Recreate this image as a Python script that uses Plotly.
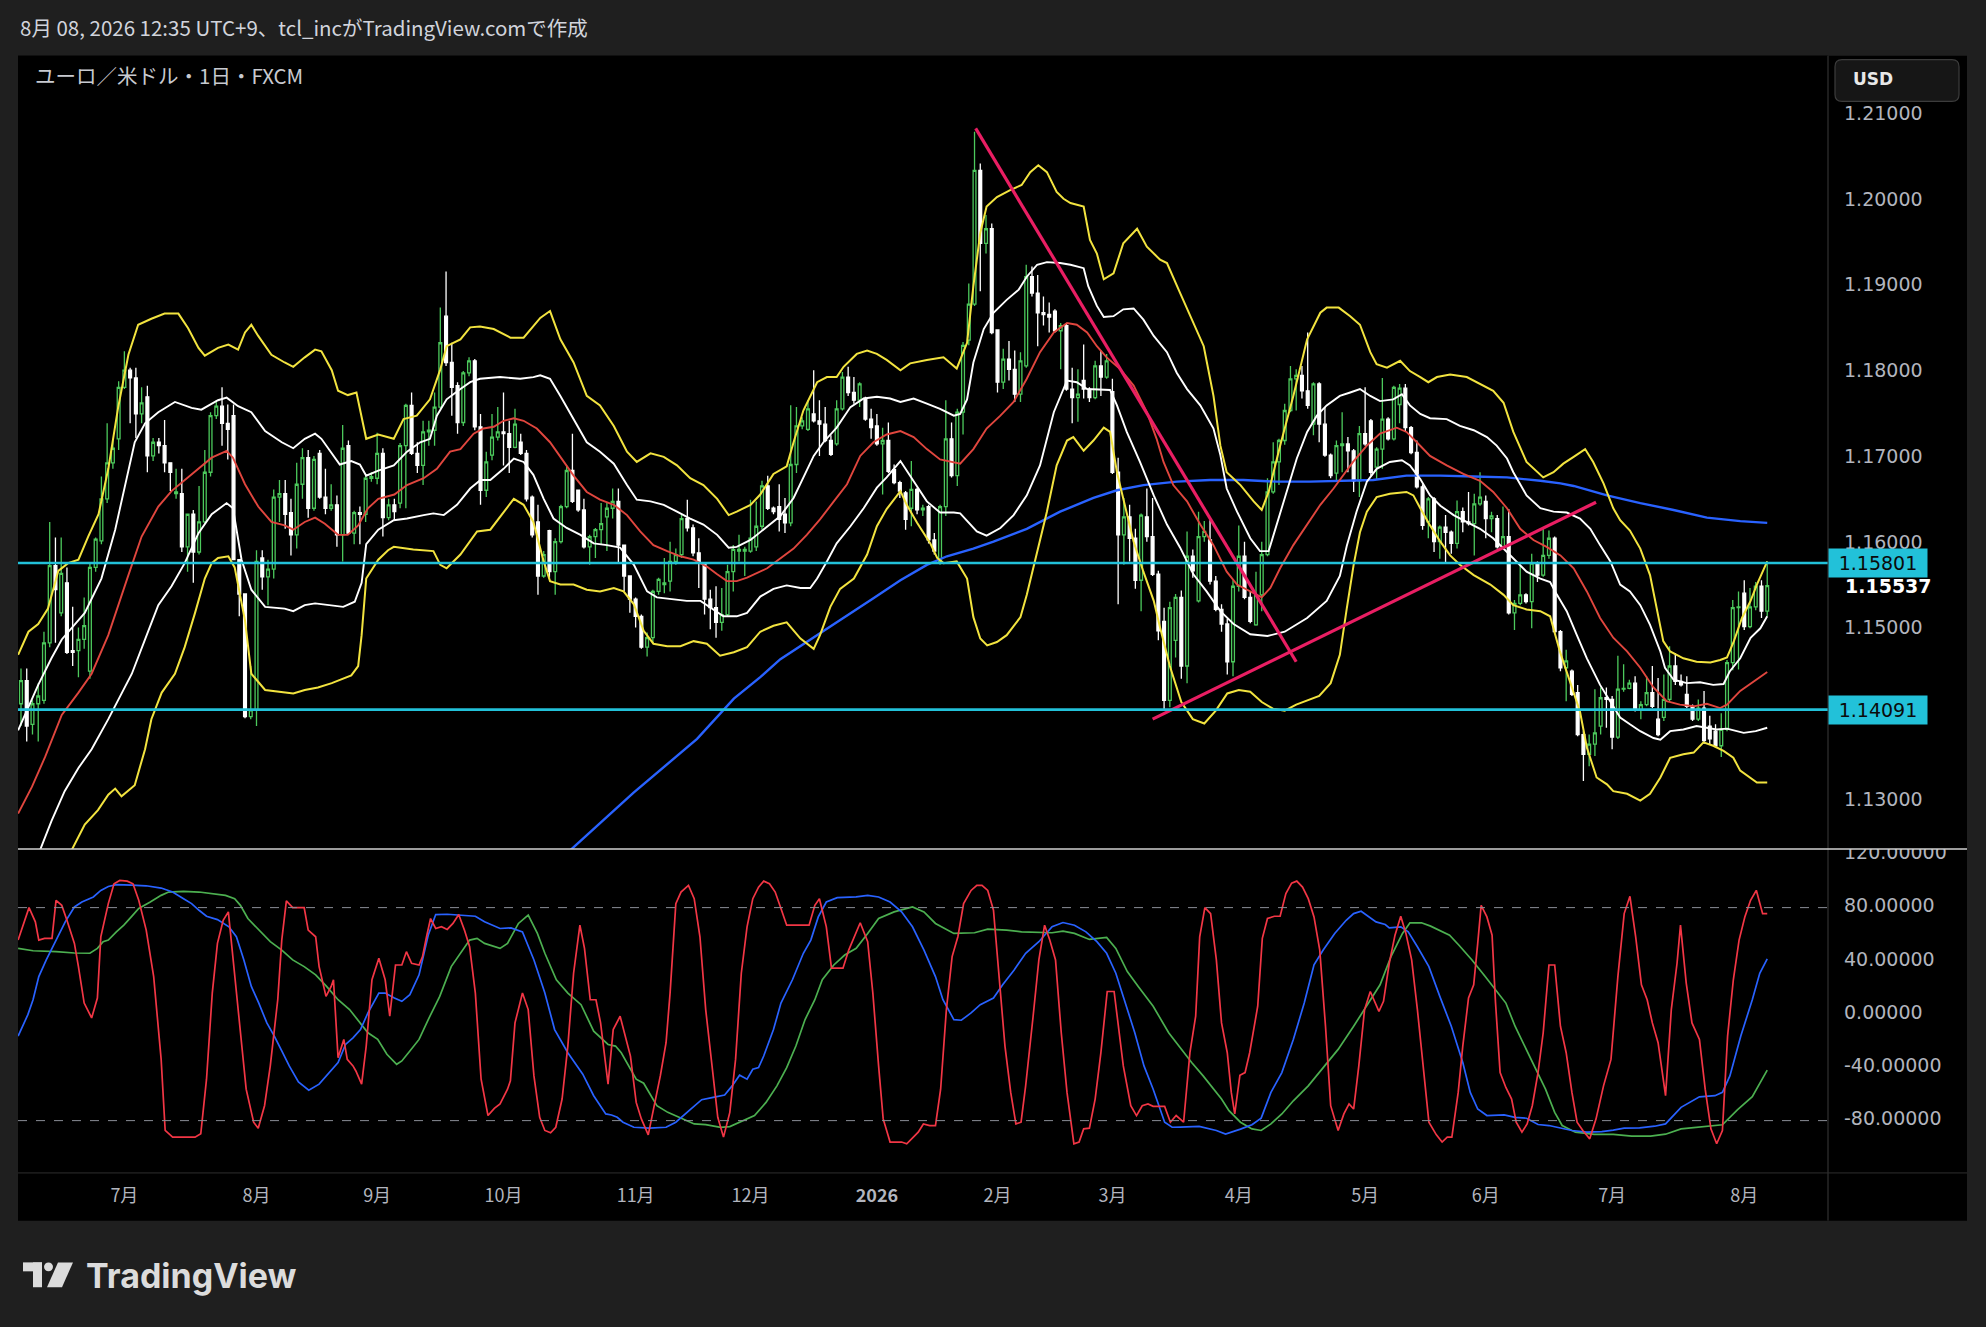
import plotly.graph_objects as go

W, H = 1986, 1327


def px(x):
    return x / W


def py(y):
    return 1 - y / H


# ---------------- data ----------------
first_bar = -18  # bar index 0 = first trading day of July 2025

open_ = [
    1.1416, 1.1443, 1.1392, 1.1416, 1.1420, 1.1487, 1.1577, 1.1522, 1.1557, 1.1478,
    1.1478, 1.1491, 1.1454, 1.1575, 1.1606, 1.1655, 1.1697, 1.1725, 1.1785, 1.1805,
    1.1796, 1.1754, 1.1774, 1.1705, 1.1721, 1.1717, 1.1697, 1.1661, 1.1661, 1.1599,
    1.1637, 1.1593, 1.1628, 1.1686, 1.1752, 1.1763, 1.1743, 1.1752, 1.1584, 1.1544,
    1.1401, 1.1409, 1.1586, 1.1564, 1.1573, 1.1657, 1.1661, 1.1639, 1.1613, 1.1672,
    1.1703, 1.1644, 1.1708, 1.1657, 1.1644, 1.1648, 1.1613, 1.1717, 1.1615, 1.1639,
    1.1637, 1.1679, 1.1679, 1.1708, 1.1633, 1.1648, 1.1650, 1.1717, 1.1764, 1.1708,
    1.1694, 1.1733, 1.1735, 1.1762, 1.1868, 1.1814, 1.1787, 1.1744, 1.1802, 1.1816,
    1.1739, 1.1665, 1.1706, 1.1727, 1.1733, 1.1731, 1.1715, 1.1721, 1.1708, 1.1657,
    1.1628, 1.1565, 1.1618, 1.1570, 1.1605, 1.1646, 1.1688, 1.1665, 1.1642, 1.1599,
    1.1611, 1.1619, 1.1634, 1.1644, 1.1652, 1.1601, 1.1565, 1.1538, 1.1518, 1.1482,
    1.1493, 1.1547, 1.1555, 1.1559, 1.1582, 1.1590, 1.1632, 1.1621, 1.1592, 1.1580,
    1.1538, 1.1528, 1.1511, 1.1520, 1.1570, 1.1594, 1.1594, 1.1594, 1.1599, 1.1623,
    1.1670, 1.1644, 1.1646, 1.1637, 1.1627, 1.1695, 1.1740, 1.1736, 1.1754, 1.1746,
    1.1742, 1.1723, 1.1719, 1.1760, 1.1797, 1.1779, 1.1770, 1.1772, 1.1748, 1.1740,
    1.1719, 1.1723, 1.1689, 1.1674, 1.1662, 1.1644, 1.1666, 1.1642, 1.1646, 1.1607,
    1.1582, 1.1646, 1.1725, 1.1682, 1.1756, 1.1840, 1.1882, 1.2038, 1.1953, 1.1970,
    1.1852, 1.1791, 1.1818, 1.1806, 1.1777, 1.1810, 1.1914, 1.1895, 1.1872, 1.1870,
    1.1874, 1.1851, 1.1857, 1.1783, 1.1773, 1.1793, 1.1783, 1.1773, 1.1810, 1.1797,
    1.1780, 1.1686, 1.1613, 1.1634, 1.1609, 1.1560, 1.1634, 1.1611, 1.1567, 1.1512,
    1.1420, 1.1490, 1.1540, 1.1460, 1.1588, 1.1536, 1.1611, 1.1607, 1.1559, 1.1526,
    1.1509, 1.1465, 1.1553, 1.1588, 1.1540, 1.1508, 1.1543, 1.1590, 1.1663, 1.1698,
    1.1723, 1.1758, 1.1795, 1.1799, 1.1781, 1.1742, 1.1789, 1.1742, 1.1706, 1.1685,
    1.1717, 1.1719, 1.1711, 1.1676, 1.1731, 1.1746, 1.1692, 1.1713, 1.1748, 1.1725,
    1.1765, 1.1784, 1.1738, 1.1709, 1.1669, 1.1628, 1.1655, 1.1605, 1.1622, 1.1616,
    1.1603, 1.1640, 1.1628, 1.1626, 1.1649, 1.1652, 1.1632, 1.1632, 1.1599, 1.1611,
    1.1522, 1.1533, 1.1543, 1.1535, 1.1580, 1.1566, 1.1589, 1.1609, 1.1500, 1.1458,
    1.1454, 1.1429, 1.1380, 1.1357, 1.1369, 1.1390, 1.1423, 1.1421, 1.1377, 1.1433,
    1.1434, 1.1440, 1.1409, 1.1415, 1.1429, 1.1398, 1.1400, 1.1421, 1.1460, 1.1442,
    1.1427, 1.1413, 1.1398, 1.1411, 1.1390, 1.1384, 1.1367, 1.1386, 1.1464, 1.1528,
    1.1545, 1.1506, 1.1529, 1.1553, 1.1524,
]

high_ = [
    1.1457, 1.1457, 1.1420, 1.1440, 1.1500, 1.1628, 1.1610, 1.1610, 1.1575, 1.1529,
    1.1505, 1.1540, 1.1580, 1.1610, 1.1681, 1.1743, 1.1725, 1.1792, 1.1827, 1.1808,
    1.1808, 1.1785, 1.1787, 1.1726, 1.1726, 1.1747, 1.1697, 1.1690, 1.1690, 1.1637,
    1.1642, 1.1670, 1.1712, 1.1756, 1.1770, 1.1785, 1.1765, 1.1765, 1.1584, 1.1544,
    1.1460, 1.1595, 1.1595, 1.1584, 1.1666, 1.1677, 1.1677, 1.1655, 1.1697, 1.1714,
    1.1712, 1.1705, 1.1712, 1.1690, 1.1672, 1.1659, 1.1741, 1.1723, 1.1641, 1.1646,
    1.1683, 1.1686, 1.1732, 1.1714, 1.1655, 1.1655, 1.1720, 1.1766, 1.1779, 1.1721,
    1.1746, 1.1746, 1.1779, 1.1878, 1.1920, 1.1837, 1.1791, 1.1804, 1.1820, 1.1818,
    1.1754, 1.1710, 1.1754, 1.1762, 1.1779, 1.1746, 1.1760, 1.1731, 1.1712, 1.1659,
    1.1648, 1.1594, 1.1619, 1.1609, 1.1648, 1.1694, 1.1731, 1.1665, 1.1655, 1.1613,
    1.1621, 1.1650, 1.1650, 1.1667, 1.1667, 1.1601, 1.1565, 1.1540, 1.1520, 1.1499,
    1.1549, 1.1563, 1.1586, 1.1605, 1.1597, 1.1636, 1.1654, 1.1625, 1.1609, 1.1580,
    1.1549, 1.1553, 1.1551, 1.1578, 1.1601, 1.1613, 1.1599, 1.1654, 1.1652, 1.1676,
    1.1682, 1.1646, 1.1672, 1.1656, 1.1764, 1.1762, 1.1750, 1.1770, 1.1805, 1.1770,
    1.1762, 1.1729, 1.1770, 1.1803, 1.1809, 1.1797, 1.1791, 1.1774, 1.1760, 1.1754,
    1.1738, 1.1744, 1.1695, 1.1676, 1.1664, 1.1699, 1.1668, 1.1648, 1.1648, 1.1615,
    1.1648, 1.1770, 1.1744, 1.1760, 1.1838, 1.1906, 1.2083, 1.2046, 1.1986, 1.1976,
    1.1852, 1.1830, 1.1839, 1.1828, 1.1826, 1.1928, 1.1926, 1.1916, 1.1891, 1.1884,
    1.1876, 1.1860, 1.1859, 1.1808, 1.1806, 1.1835, 1.1785, 1.1816, 1.1828, 1.1824,
    1.1795, 1.1703, 1.1656, 1.1648, 1.1620, 1.1638, 1.1667, 1.1656, 1.1571, 1.1528,
    1.1535, 1.1544, 1.1548, 1.1617, 1.1596, 1.1640, 1.1629, 1.1630, 1.1565, 1.1532,
    1.1515, 1.1560, 1.1624, 1.1605, 1.1547, 1.1570, 1.1605, 1.1679, 1.1721, 1.1725,
    1.1766, 1.1810, 1.1806, 1.1810, 1.1849, 1.1791, 1.1791, 1.1762, 1.1708, 1.1723,
    1.1756, 1.1727, 1.1713, 1.1740, 1.1785, 1.1748, 1.1715, 1.1796, 1.1750, 1.1787,
    1.1789, 1.1789, 1.1740, 1.1723, 1.1672, 1.1657, 1.1657, 1.1624, 1.1636, 1.1618,
    1.1653, 1.1645, 1.1663, 1.1661, 1.1686, 1.1659, 1.1640, 1.1636, 1.1646, 1.1643,
    1.1537, 1.1578, 1.1545, 1.1591, 1.1582, 1.1622, 1.1618, 1.1611, 1.1502, 1.1479,
    1.1456, 1.1438, 1.1384, 1.1380, 1.1433, 1.1435, 1.1435, 1.1425, 1.1472, 1.1462,
    1.1444, 1.1448, 1.1419, 1.1448, 1.1460, 1.1446, 1.1450, 1.1483, 1.1475, 1.1450,
    1.1448, 1.1415, 1.1421, 1.1431, 1.1402, 1.1392, 1.1405, 1.1467, 1.1537, 1.1547,
    1.1560, 1.1551, 1.1558, 1.1560, 1.1582,
]

low_ = [
    1.1390, 1.1372, 1.1380, 1.1372, 1.1416, 1.1482, 1.1487, 1.1518, 1.1474, 1.1460,
    1.1447, 1.1480, 1.1445, 1.1570, 1.1602, 1.1650, 1.1690, 1.1712, 1.1783, 1.1743,
    1.1726, 1.1743, 1.1686, 1.1699, 1.1708, 1.1686, 1.1664, 1.1655, 1.1593, 1.1570,
    1.1557, 1.1590, 1.1626, 1.1681, 1.1748, 1.1717, 1.1701, 1.1584, 1.1518, 1.1399,
    1.1398, 1.1390, 1.1549, 1.1531, 1.1562, 1.1628, 1.1620, 1.1589, 1.1597, 1.1655,
    1.1633, 1.1641, 1.1655, 1.1637, 1.1641, 1.1599, 1.1582, 1.1613, 1.1602, 1.1602,
    1.1628, 1.1675, 1.1672, 1.1611, 1.1630, 1.1630, 1.1644, 1.1644, 1.1706, 1.1685,
    1.1671, 1.1717, 1.1717, 1.1760, 1.1810, 1.1752, 1.1731, 1.1740, 1.1798, 1.1735,
    1.1648, 1.1657, 1.1700, 1.1723, 1.1694, 1.1685, 1.1714, 1.1706, 1.1652, 1.1610,
    1.1543, 1.1563, 1.1563, 1.1543, 1.1603, 1.1644, 1.1650, 1.1640, 1.1597, 1.1578,
    1.1586, 1.1601, 1.1594, 1.1632, 1.1580, 1.1547, 1.1522, 1.1505, 1.1480, 1.1471,
    1.1486, 1.1543, 1.1545, 1.1547, 1.1578, 1.1586, 1.1617, 1.1588, 1.1551, 1.1520,
    1.1503, 1.1493, 1.1501, 1.1518, 1.1547, 1.1582, 1.1565, 1.1592, 1.1594, 1.1619,
    1.1642, 1.1637, 1.1617, 1.1615, 1.1623, 1.1685, 1.1736, 1.1734, 1.1744, 1.1705,
    1.1721, 1.1705, 1.1717, 1.1758, 1.1775, 1.1766, 1.1762, 1.1746, 1.1725, 1.1717,
    1.1660, 1.1685, 1.1672, 1.1656, 1.1619, 1.1623, 1.1637, 1.1635, 1.1603, 1.1590,
    1.1578, 1.1635, 1.1680, 1.1670, 1.1730, 1.1834, 1.1880, 1.1897, 1.1941, 1.1847,
    1.1779, 1.1783, 1.1793, 1.1768, 1.1768, 1.1808, 1.1891, 1.1833, 1.1857, 1.1849,
    1.1849, 1.1806, 1.1781, 1.1743, 1.1745, 1.1772, 1.1768, 1.1771, 1.1775, 1.1795,
    1.1684, 1.1532, 1.1578, 1.1582, 1.1550, 1.1524, 1.1605, 1.1565, 1.1490, 1.1408,
    1.1412, 1.1470, 1.1445, 1.1440, 1.1563, 1.1534, 1.1605, 1.1555, 1.1524, 1.1500,
    1.1450, 1.1448, 1.1547, 1.1538, 1.1510, 1.1507, 1.1524, 1.1588, 1.1661, 1.1671,
    1.1718, 1.1756, 1.1758, 1.1772, 1.1760, 1.1729, 1.1721, 1.1704, 1.1679, 1.1675,
    1.1686, 1.1686, 1.1663, 1.1657, 1.1717, 1.1682, 1.1678, 1.1690, 1.1723, 1.1723,
    1.1743, 1.1734, 1.1707, 1.1667, 1.1619, 1.1609, 1.1593, 1.1585, 1.1580, 1.1591,
    1.1597, 1.1616, 1.1624, 1.1589, 1.1647, 1.1609, 1.1616, 1.1597, 1.1597, 1.1520,
    1.1502, 1.1531, 1.1533, 1.1504, 1.1558, 1.1564, 1.1585, 1.1498, 1.1454, 1.1419,
    1.1425, 1.1378, 1.1326, 1.1343, 1.1355, 1.1380, 1.1388, 1.1363, 1.1375, 1.1430,
    1.1433, 1.1407, 1.1398, 1.1413, 1.1411, 1.1378, 1.1396, 1.1419, 1.1438, 1.1436,
    1.1411, 1.1396, 1.1396, 1.1369, 1.1369, 1.1365, 1.1354, 1.1384, 1.1455, 1.1456,
    1.1502, 1.1504, 1.1525, 1.1516, 1.1518,
]

close_ = [
    1.1443, 1.1390, 1.1416, 1.1425, 1.1487, 1.1577, 1.1549, 1.1568, 1.1476, 1.1476,
    1.1491, 1.1507, 1.1575, 1.1608, 1.1655, 1.1697, 1.1714, 1.1785, 1.1805, 1.1796,
    1.1754, 1.1767, 1.1705, 1.1721, 1.1717, 1.1697, 1.1686, 1.1663, 1.1599, 1.1637,
    1.1593, 1.1628, 1.1686, 1.1752, 1.1763, 1.1743, 1.1736, 1.1584, 1.1544, 1.1401,
    1.1409, 1.1582, 1.1564, 1.1573, 1.1657, 1.1661, 1.1637, 1.1613, 1.1672, 1.1703,
    1.1644, 1.1701, 1.1657, 1.1644, 1.1648, 1.1613, 1.1714, 1.1615, 1.1639, 1.1637,
    1.1679, 1.1681, 1.1708, 1.1633, 1.1648, 1.1640, 1.1717, 1.1764, 1.1708, 1.1694,
    1.1733, 1.1735, 1.1762, 1.1837, 1.1814, 1.1785, 1.1744, 1.1802, 1.1816, 1.1739,
    1.1665, 1.1698, 1.1727, 1.1733, 1.1731, 1.1715, 1.1742, 1.1708, 1.1655, 1.1613,
    1.1565, 1.1590, 1.1570, 1.1605, 1.1646, 1.1688, 1.1652, 1.1642, 1.1599, 1.1611,
    1.1619, 1.1626, 1.1644, 1.1652, 1.1601, 1.1565, 1.1538, 1.1518, 1.1482, 1.1493,
    1.1547, 1.1561, 1.1557, 1.1582, 1.1590, 1.1632, 1.1621, 1.1592, 1.1580, 1.1538,
    1.1528, 1.1511, 1.1520, 1.1570, 1.1596, 1.1596, 1.1596, 1.1609, 1.1623, 1.1670,
    1.1644, 1.1640, 1.1631, 1.1627, 1.1695, 1.1740, 1.1746, 1.1760, 1.1746, 1.1742,
    1.1723, 1.1707, 1.1760, 1.1797, 1.1779, 1.1770, 1.1789, 1.1748, 1.1738, 1.1719,
    1.1723, 1.1687, 1.1674, 1.1664, 1.1631, 1.1666, 1.1642, 1.1644, 1.1607, 1.1594,
    1.1646, 1.1725, 1.1682, 1.1756, 1.1834, 1.1882, 1.2038, 1.1953, 1.1970, 1.1849,
    1.1791, 1.1818, 1.1806, 1.1777, 1.1816, 1.1914, 1.1895, 1.1872, 1.1870, 1.1867,
    1.1851, 1.1857, 1.1783, 1.1773, 1.1777, 1.1783, 1.1773, 1.1810, 1.1797, 1.1816,
    1.1686, 1.1613, 1.1634, 1.1609, 1.1560, 1.1636, 1.1611, 1.1567, 1.1501, 1.1420,
    1.1528, 1.1540, 1.1460, 1.1588, 1.1571, 1.1611, 1.1617, 1.1559, 1.1526, 1.1509,
    1.1465, 1.1553, 1.1588, 1.1540, 1.1512, 1.1543, 1.1590, 1.1663, 1.1698, 1.1723,
    1.1758, 1.1795, 1.1799, 1.1781, 1.1764, 1.1789, 1.1742, 1.1706, 1.1682, 1.1717,
    1.1719, 1.1711, 1.1676, 1.1731, 1.1719, 1.1686, 1.1713, 1.1748, 1.1725, 1.1785,
    1.1784, 1.1738, 1.1709, 1.1669, 1.1624, 1.1655, 1.1605, 1.1622, 1.1616, 1.1603,
    1.1640, 1.1628, 1.1626, 1.1649, 1.1657, 1.1632, 1.1635, 1.1599, 1.1611, 1.1522,
    1.1533, 1.1543, 1.1535, 1.1580, 1.1566, 1.1589, 1.1609, 1.1500, 1.1458, 1.1466,
    1.1427, 1.1380, 1.1357, 1.1369, 1.1382, 1.1423, 1.1421, 1.1377, 1.1433, 1.1434,
    1.1440, 1.1409, 1.1415, 1.1429, 1.1413, 1.1380, 1.1421, 1.1460, 1.1442, 1.1438,
    1.1413, 1.1398, 1.1411, 1.1373, 1.1375, 1.1367, 1.1386, 1.1464, 1.1528, 1.1529,
    1.1506, 1.1529, 1.1553, 1.1524, 1.15537,
]

assert len(open_) == len(high_) == len(low_) == len(close_)
bars = list(range(first_bar, first_bar + len(close_)))

# Bollinger-type bands (bar index, price)
upper2 = [(-18.5, 1.1473), (-16.7, 1.1500), (-15.0, 1.1509), (-13.3, 1.1527), (-11.5, 1.1571), (-9.8, 1.1580), (-8.0, 1.1584), (-6.3, 1.1611), (-4.5, 1.1637), (-2.8, 1.1690), (-1.1, 1.1761), (0.7, 1.1823), (2.4, 1.1858), (4.7, 1.1865), (7.0, 1.1871), (9.4, 1.1871), (11.1, 1.1854), (12.9, 1.1831), (14.0, 1.1822), (16.3, 1.1831), (18.1, 1.1835), (19.8, 1.1829), (21.0, 1.1849), (22.1, 1.1858), (23.3, 1.1845), (25.6, 1.1823), (27.9, 1.1814), (29.4, 1.1809), (31.4, 1.1820), (33.2, 1.1829), (34.3, 1.1827), (36.1, 1.1805), (37.2, 1.1781), (38.9, 1.1776), (40.4, 1.1779), (41.3, 1.1752), (42.1, 1.1725), (44.2, 1.1730), (46.9, 1.1725), (48.6, 1.1748), (50.9, 1.1752), (53.2, 1.1771), (55.0, 1.1806), (56.1, 1.1833), (58.5, 1.1841), (60.2, 1.1855), (61.9, 1.1856), (64.3, 1.1853), (67.2, 1.1843), (69.5, 1.1843), (71.2, 1.1856), (72.4, 1.1866), (74.1, 1.1874), (75.9, 1.1841), (78.2, 1.1814), (80.5, 1.1775), (82.8, 1.1764), (85.2, 1.1740), (87.5, 1.1710), (89.2, 1.1698), (91.6, 1.1708), (93.9, 1.1704), (96.2, 1.1694), (98.5, 1.1679), (100.8, 1.1671), (103.2, 1.1655), (105.2, 1.1636), (106.6, 1.1640), (109.0, 1.1648), (110.7, 1.1660), (113.0, 1.1684), (115.3, 1.1693), (116.5, 1.1721), (118.2, 1.1758), (120.6, 1.1791), (122.3, 1.1797), (124.0, 1.1797), (125.2, 1.1809), (127.5, 1.1824), (129.3, 1.1828), (131.0, 1.1824), (132.7, 1.1817), (135.1, 1.1805), (136.8, 1.1813), (139.7, 1.1817), (142.6, 1.1820), (144.9, 1.1807), (146.1, 1.1826), (146.7, 1.1837), (147.8, 1.1903), (149.0, 1.1965), (150.1, 1.1996), (151.9, 1.2007), (154.2, 1.2015), (156.2, 1.2021), (157.7, 1.2036), (159.1, 1.2044), (160.6, 1.2036), (162.3, 1.2013), (163.5, 1.2005), (164.7, 1.2000), (167.0, 1.1996), (168.1, 1.1957), (169.3, 1.1941), (170.5, 1.1911), (172.2, 1.1918), (173.9, 1.1953), (176.3, 1.1970), (178.0, 1.1949), (180.3, 1.1934), (181.5, 1.1930), (183.8, 1.1895), (186.1, 1.1860), (187.9, 1.1833), (189.6, 1.1775), (190.8, 1.1717), (191.9, 1.1686), (194.3, 1.1671), (196.6, 1.1652), (198.0, 1.1642), (199.2, 1.1663), (201.2, 1.1717), (203.5, 1.1775), (205.9, 1.1841), (208.2, 1.1872), (209.3, 1.1878), (211.4, 1.1878), (213.4, 1.1868), (215.1, 1.1858), (216.9, 1.1826), (218.0, 1.1812), (219.8, 1.1808), (222.1, 1.1816), (223.8, 1.1804), (225.6, 1.1797), (227.0, 1.1791), (228.5, 1.1797), (230.8, 1.1800), (233.7, 1.1797), (236.0, 1.1789), (238.3, 1.1781), (240.1, 1.1767), (241.8, 1.1733), (244.1, 1.1698), (247.0, 1.1680), (248.8, 1.1686), (250.5, 1.1696), (252.3, 1.1704), (254.3, 1.1713), (255.7, 1.1698), (257.5, 1.1673), (259.2, 1.1644), (260.4, 1.1630), (262.1, 1.1618), (263.9, 1.1597), (265.6, 1.1566), (266.8, 1.1527), (267.9, 1.1489), (269.1, 1.1477), (271.4, 1.1469), (273.7, 1.1465), (276.1, 1.1464), (277.8, 1.1467), (279.0, 1.1470), (280.2, 1.1489), (281.6, 1.1516), (283.1, 1.1536), (284.2, 1.1555), (286.0, 1.1582)]

upper1 = [(-18.5, 1.1385), (-15.0, 1.1438), (-12.7, 1.1469), (-10.9, 1.1491), (-6.9, 1.1522), (-4.0, 1.1562), (-1.6, 1.1619), (0.1, 1.1672), (1.8, 1.1721), (3.6, 1.1743), (5.9, 1.1756), (8.8, 1.1768), (11.7, 1.1761), (13.4, 1.1759), (16.3, 1.1770), (17.8, 1.1773), (19.8, 1.1763), (22.1, 1.1756), (24.5, 1.1734), (27.4, 1.1721), (29.4, 1.1714), (31.4, 1.1725), (33.2, 1.1731), (34.3, 1.1725), (36.1, 1.1708), (37.5, 1.1695), (39.5, 1.1699), (41.0, 1.1695), (42.1, 1.1682), (44.2, 1.1688), (46.9, 1.1694), (49.2, 1.1710), (51.5, 1.1721), (53.2, 1.1725), (54.4, 1.1752), (56.1, 1.1771), (58.5, 1.1783), (60.2, 1.1791), (61.9, 1.1795), (65.4, 1.1797), (68.9, 1.1795), (71.2, 1.1797), (72.4, 1.1799), (74.1, 1.1795), (75.9, 1.1775), (78.2, 1.1748), (80.5, 1.1721), (82.8, 1.1710), (85.2, 1.1696), (87.5, 1.1671), (89.2, 1.1654), (91.6, 1.1652), (93.9, 1.1648), (96.2, 1.1640), (98.5, 1.1632), (100.8, 1.1625), (103.2, 1.1613), (105.2, 1.1598), (106.6, 1.1599), (109.0, 1.1607), (111.9, 1.1623), (114.2, 1.1635), (116.5, 1.1656), (118.2, 1.1680), (120.0, 1.1705), (121.7, 1.1721), (124.0, 1.1738), (126.4, 1.1762), (128.7, 1.1772), (131.0, 1.1774), (133.3, 1.1772), (135.1, 1.1768), (137.4, 1.1772), (139.7, 1.1766), (142.0, 1.1760), (144.4, 1.1752), (145.5, 1.1754), (146.7, 1.1771), (147.8, 1.1814), (149.6, 1.1853), (151.3, 1.1872), (153.6, 1.1887), (155.7, 1.1899), (157.1, 1.1914), (158.9, 1.1928), (160.6, 1.1931), (162.9, 1.1930), (164.7, 1.1928), (167.0, 1.1924), (167.8, 1.1903), (169.3, 1.1880), (170.5, 1.1867), (172.2, 1.1868), (173.9, 1.1876), (175.7, 1.1877), (177.4, 1.1864), (179.2, 1.1845), (181.5, 1.1826), (183.2, 1.1802), (185.0, 1.1783), (187.3, 1.1764), (189.6, 1.1737), (190.8, 1.1706), (191.9, 1.1667), (193.7, 1.1640), (196.0, 1.1609), (197.7, 1.1594), (199.2, 1.1594), (200.6, 1.1625), (202.4, 1.1667), (204.1, 1.1702), (205.9, 1.1733), (207.6, 1.1752), (209.3, 1.1764), (211.6, 1.1775), (213.4, 1.1779), (215.1, 1.1783), (216.9, 1.1775), (218.6, 1.1769), (220.9, 1.1771), (222.4, 1.1777), (223.8, 1.1764), (225.6, 1.1754), (227.3, 1.1749), (230.2, 1.1748), (232.5, 1.1740), (234.9, 1.1735), (237.2, 1.1727), (238.9, 1.1717), (240.7, 1.1702), (241.8, 1.1686), (244.1, 1.1659), (246.5, 1.1644), (248.8, 1.1640), (251.1, 1.1639), (253.4, 1.1632), (255.2, 1.1620), (256.9, 1.1601), (258.7, 1.1582), (260.4, 1.1555), (262.1, 1.1547), (263.9, 1.1531), (265.6, 1.1508), (267.4, 1.1477), (268.2, 1.1458), (269.7, 1.1444), (272.0, 1.1440), (274.3, 1.1441), (276.6, 1.1438), (278.4, 1.1439), (279.5, 1.1454), (281.3, 1.1469), (283.1, 1.1493), (284.8, 1.1504), (286.0, 1.1518)]

middle = [(-18.5, 1.1288), (-16.1, 1.1319), (-13.8, 1.1354), (-10.9, 1.1403), (-8.0, 1.1429), (-5.7, 1.1451), (-2.8, 1.1496), (-1.1, 1.1531), (0.7, 1.1566), (3.0, 1.1611), (5.9, 1.1646), (8.2, 1.1664), (10.5, 1.1677), (12.9, 1.1690), (15.2, 1.1703), (17.8, 1.1711), (18.9, 1.1703), (21.0, 1.1672), (23.3, 1.1646), (25.6, 1.1628), (27.9, 1.1624), (29.4, 1.1619), (31.4, 1.1628), (33.2, 1.1633), (34.9, 1.1626), (37.2, 1.1613), (38.9, 1.1613), (40.7, 1.1624), (42.4, 1.1644), (44.2, 1.1655), (47.0, 1.1660), (49.2, 1.1671), (52.1, 1.1679), (54.4, 1.1690), (56.7, 1.1710), (58.5, 1.1713), (60.8, 1.1731), (62.5, 1.1737), (64.3, 1.1739), (66.0, 1.1746), (67.8, 1.1749), (69.5, 1.1746), (71.8, 1.1737), (74.1, 1.1721), (76.5, 1.1698), (78.2, 1.1682), (80.5, 1.1663), (82.8, 1.1654), (85.2, 1.1648), (87.5, 1.1636), (89.8, 1.1617), (92.1, 1.1601), (94.5, 1.1594), (96.8, 1.1588), (99.1, 1.1584), (101.4, 1.1576), (103.2, 1.1567), (104.9, 1.1559), (106.6, 1.1559), (108.4, 1.1563), (111.9, 1.1574), (114.2, 1.1586), (116.5, 1.1597), (118.8, 1.1613), (121.1, 1.1631), (123.5, 1.1652), (125.8, 1.1672), (128.1, 1.1705), (130.4, 1.1721), (132.7, 1.1730), (135.1, 1.1734), (137.4, 1.1727), (139.7, 1.1713), (142.0, 1.1701), (144.4, 1.1697), (145.5, 1.1696), (147.8, 1.1713), (150.1, 1.1737), (152.5, 1.1752), (154.8, 1.1768), (157.1, 1.1795), (159.4, 1.1826), (161.8, 1.1849), (164.1, 1.1860), (165.8, 1.1858), (167.6, 1.1849), (169.3, 1.1833), (171.0, 1.1820), (173.4, 1.1806), (175.7, 1.1787), (178.0, 1.1756), (179.7, 1.1725), (180.9, 1.1698), (182.6, 1.1671), (185.0, 1.1652), (187.3, 1.1625), (189.6, 1.1601), (191.9, 1.1570), (193.7, 1.1555), (196.0, 1.1547), (198.0, 1.1540), (199.5, 1.1551), (201.2, 1.1574), (203.5, 1.1601), (205.9, 1.1625), (208.2, 1.1648), (210.5, 1.1667), (213.9, 1.1698), (216.3, 1.1717), (218.6, 1.1731), (221.5, 1.1738), (223.2, 1.1733), (225.0, 1.1721), (227.3, 1.1705), (230.2, 1.1694), (233.1, 1.1684), (236.0, 1.1676), (238.3, 1.1663), (240.7, 1.1644), (243.0, 1.1620), (245.3, 1.1607), (247.6, 1.1599), (250.0, 1.1589), (252.3, 1.1574), (254.6, 1.1547), (256.9, 1.1516), (259.2, 1.1493), (261.6, 1.1477), (263.9, 1.1458), (266.2, 1.1435), (268.5, 1.1419), (270.8, 1.1415), (273.2, 1.1413), (275.5, 1.1416), (277.8, 1.1411), (279.0, 1.1415), (281.3, 1.1431), (283.6, 1.1442), (286.0, 1.1453)]

lower1 = [(-18.5, 1.1195), (-14.7, 1.1245), (-12.7, 1.1279), (-10.4, 1.1314), (-8.0, 1.1341), (-5.7, 1.1363), (-2.8, 1.1398), (-1.1, 1.1420), (1.3, 1.1451), (3.6, 1.1491), (5.9, 1.1531), (8.2, 1.1553), (10.5, 1.1580), (12.9, 1.1615), (15.2, 1.1637), (17.8, 1.1650), (18.9, 1.1644), (20.4, 1.1584), (22.1, 1.1549), (24.5, 1.1529), (27.9, 1.1527), (29.4, 1.1524), (31.4, 1.1531), (33.2, 1.1533), (36.1, 1.1531), (38.1, 1.1529), (40.1, 1.1535), (41.3, 1.1557), (42.1, 1.1602), (44.2, 1.1619), (46.9, 1.1630), (49.2, 1.1632), (52.1, 1.1636), (53.8, 1.1638), (55.6, 1.1636), (57.9, 1.1648), (60.2, 1.1667), (62.0, 1.1677), (63.7, 1.1677), (66.0, 1.1690), (67.8, 1.1702), (69.5, 1.1698), (71.2, 1.1683), (73.0, 1.1655), (74.7, 1.1632), (77.0, 1.1621), (79.4, 1.1613), (81.7, 1.1603), (84.0, 1.1601), (86.3, 1.1598), (88.7, 1.1578), (91.0, 1.1547), (92.7, 1.1540), (95.0, 1.1538), (97.9, 1.1536), (100.3, 1.1536), (102.6, 1.1526), (104.3, 1.1518), (106.6, 1.1518), (108.4, 1.1522), (110.7, 1.1541), (113.0, 1.1550), (115.3, 1.1554), (117.7, 1.1551), (119.4, 1.1551), (120.6, 1.1562), (122.3, 1.1582), (124.0, 1.1603), (126.4, 1.1623), (128.7, 1.1644), (131.0, 1.1668), (132.7, 1.1680), (135.1, 1.1699), (137.4, 1.1676), (139.7, 1.1652), (142.0, 1.1639), (144.4, 1.1639), (145.5, 1.1638), (148.4, 1.1617), (150.1, 1.1612), (152.5, 1.1621), (154.8, 1.1636), (157.1, 1.1659), (159.4, 1.1694), (161.8, 1.1756), (164.1, 1.1793), (165.8, 1.1791), (167.6, 1.1783), (169.9, 1.1782), (171.6, 1.1782), (172.8, 1.1764), (174.5, 1.1733), (176.8, 1.1698), (179.2, 1.1659), (181.5, 1.1625), (183.8, 1.1598), (186.1, 1.1567), (188.4, 1.1547), (190.8, 1.1524), (193.1, 1.1509), (196.0, 1.1497), (199.0, 1.1495), (202.0, 1.1500), (205.9, 1.1516), (209.3, 1.1536), (211.6, 1.1565), (212.8, 1.1600), (214.5, 1.1640), (216.3, 1.1675), (218.0, 1.1690), (220.3, 1.1698), (222.4, 1.1700), (223.8, 1.1694), (225.6, 1.1678), (227.3, 1.1659), (229.1, 1.1647), (231.4, 1.1636), (233.7, 1.1628), (236.0, 1.1620), (238.3, 1.1609), (240.1, 1.1597), (241.8, 1.1585), (244.1, 1.1570), (246.5, 1.1562), (248.2, 1.1558), (249.4, 1.1543), (251.1, 1.1524), (252.8, 1.1497), (254.6, 1.1469), (256.9, 1.1438), (258.7, 1.1419), (260.4, 1.1400), (262.1, 1.1392), (263.9, 1.1384), (266.2, 1.1376), (267.4, 1.1374), (269.1, 1.1384), (271.4, 1.1386), (273.7, 1.1390), (275.5, 1.1388), (277.2, 1.1386), (279.0, 1.1387), (281.9, 1.1382), (284.0, 1.1384), (286.0, 1.1388)]

lower2 = [(-18.5, 1.1140), (-13.0, 1.1200), (-9.2, 1.1245), (-6.9, 1.1275), (-4.6, 1.1292), (-2.8, 1.1310), (-1.6, 1.1317), (-0.5, 1.1308), (1.8, 1.1321), (3.6, 1.1363), (4.7, 1.1398), (6.5, 1.1429), (8.8, 1.1451), (10.5, 1.1482), (12.3, 1.1522), (14.0, 1.1562), (15.2, 1.1580), (16.3, 1.1586), (18.1, 1.1588), (19.2, 1.1575), (21.0, 1.1513), (22.1, 1.1451), (24.5, 1.1432), (27.9, 1.1429), (29.4, 1.1428), (31.4, 1.1432), (33.7, 1.1435), (36.1, 1.1440), (39.5, 1.1449), (40.7, 1.1460), (41.3, 1.1496), (42.1, 1.1562), (44.2, 1.1584), (45.9, 1.1595), (46.9, 1.1599), (50.3, 1.1596), (53.8, 1.1594), (55.0, 1.1578), (56.1, 1.1574), (58.5, 1.1590), (60.2, 1.1605), (61.4, 1.1617), (63.7, 1.1619), (66.0, 1.1640), (67.8, 1.1655), (69.5, 1.1648), (71.2, 1.1628), (73.0, 1.1582), (74.1, 1.1559), (75.9, 1.1555), (78.2, 1.1555), (80.5, 1.1549), (82.8, 1.1547), (85.2, 1.1551), (86.9, 1.1547), (88.7, 1.1532), (90.4, 1.1501), (92.1, 1.1486), (94.5, 1.1483), (96.8, 1.1483), (99.1, 1.1489), (101.4, 1.1486), (103.7, 1.1472), (106.1, 1.1476), (108.4, 1.1482), (110.7, 1.1500), (113.0, 1.1507), (115.3, 1.1511), (117.7, 1.1492), (120.0, 1.1480), (121.1, 1.1496), (122.9, 1.1529), (124.6, 1.1550), (127.0, 1.1562), (129.3, 1.1590), (131.0, 1.1623), (132.7, 1.1643), (135.1, 1.1664), (136.2, 1.1648), (138.0, 1.1627), (140.3, 1.1603), (141.5, 1.1586), (142.6, 1.1580), (144.9, 1.1582), (146.7, 1.1562), (147.8, 1.1517), (149.0, 1.1492), (150.2, 1.1484), (151.9, 1.1488), (153.6, 1.1496), (156.0, 1.1517), (157.1, 1.1543), (158.8, 1.1590), (160.6, 1.1640), (162.3, 1.1694), (164.1, 1.1723), (165.2, 1.1727), (167.0, 1.1711), (168.7, 1.1723), (170.5, 1.1738), (171.6, 1.1733), (172.8, 1.1686), (173.9, 1.1655), (175.7, 1.1605), (177.4, 1.1570), (179.2, 1.1536), (180.3, 1.1505), (182.0, 1.1460), (184.0, 1.1418), (186.0, 1.1398), (188.0, 1.1393), (190.0, 1.1408), (192.0, 1.1428), (194.0, 1.1432), (196.0, 1.1430), (198.0, 1.1418), (200.0, 1.1410), (202.0, 1.1408), (204.0, 1.1415), (206.0, 1.1420), (208.0, 1.1425), (210.0, 1.1440), (211.6, 1.1473), (212.8, 1.1527), (214.0, 1.1578), (215.1, 1.1616), (216.3, 1.1640), (218.0, 1.1657), (220.3, 1.1661), (223.2, 1.1663), (224.4, 1.1659), (225.6, 1.1644), (227.3, 1.1624), (229.1, 1.1605), (230.8, 1.1589), (232.5, 1.1578), (234.9, 1.1566), (237.8, 1.1555), (240.1, 1.1543), (241.8, 1.1531), (244.1, 1.1526), (246.5, 1.1524), (248.2, 1.1518), (249.9, 1.1477), (251.7, 1.1442), (253.4, 1.1407), (254.6, 1.1365), (256.3, 1.1330), (258.1, 1.1322), (259.2, 1.1314), (261.6, 1.1311), (263.9, 1.1303), (265.6, 1.1311), (267.4, 1.1330), (269.1, 1.1353), (271.4, 1.1357), (273.2, 1.1359), (274.9, 1.1371), (276.6, 1.1367), (278.4, 1.1361), (280.1, 1.1353), (281.3, 1.1338), (284.2, 1.1324), (286.0, 1.1324)]

sma_long = [(75.0, 1.1230), (77.6, 1.1245), (88.6, 1.1312), (99.7, 1.1375), (106.1, 1.1422), (110.7, 1.1447), (114.2, 1.1468), (118.8, 1.1488), (122.3, 1.1504), (126.4, 1.1521), (130.4, 1.1539), (135.1, 1.1560), (139.7, 1.1578), (143.2, 1.1588), (147.8, 1.1597), (151.3, 1.1605), (157.1, 1.1620), (162.9, 1.1640), (168.7, 1.1656), (172.8, 1.1665), (177.4, 1.1671), (183.2, 1.1675), (189.0, 1.1677), (194.8, 1.1677), (200.6, 1.1675), (206.4, 1.1675), (211.6, 1.1676), (217.4, 1.1677), (223.2, 1.1682), (229.1, 1.1682), (234.9, 1.1681), (240.7, 1.1680), (246.5, 1.1676), (250.0, 1.1673), (252.3, 1.1670), (258.1, 1.1659), (263.9, 1.1650), (269.7, 1.1642), (275.5, 1.1633), (281.3, 1.1629), (286.0, 1.1627)]

# drawn trend lines (bar, price)
trend_down_x = [148.2, 204.0]
trend_down_y = [1.2087, 1.1465]
trend_up_x = [179.0, 256.2]
trend_up_y = [1.1398, 1.1651]

# horizontal levels
level_hi = 1.15801
level_lo = 1.14091
last_price = 1.15537

# oscillator pane (bar, value)
osc_fast = [(-18.5, 55.6), (-16.6, 80.0), (-15.5, 69.3), (-14.9, 55.6), (-13.9, 56.9), (-12.6, 56.9), (-11.9, 85.5), (-10.9, 81.7), (-10.0, 70.5), (-8.7, 53.1), (-8.0, 35.7), (-7.0, 8.3), (-5.7, -2.9), (-4.7, 12.1), (-4.1, 58.1), (-2.8, 83.0), (-1.8, 97.9), (-0.8, 100.4), (0.5, 99.9), (1.5, 97.9), (2.5, 85.5), (3.8, 63.1), (5.1, 28.2), (6.4, -34.0), (7.1, -87.4), (8.4, -92.4), (12.3, -92.4), (13.3, -89.9), (14.3, -48.9), (15.3, 15.8), (16.2, 53.1), (17.2, 70.5), (18.1, 76.8), (18.9, 43.2), (20.2, -14.0), (21.2, -56.4), (22.5, -81.2), (23.3, -85.7), (24.4, -68.8), (25.4, -38.9), (26.7, 10.8), (27.4, 55.6), (28.2, 85.0), (29.3, 80.0), (31.3, 80.0), (32.0, 63.1), (33.3, 58.1), (33.9, 35.7), (35.1, 13.3), (36.0, 20.8), (36.4, 25.8), (36.9, -9.1), (37.2, -32.7), (38.2, -19.0), (38.8, -34.0), (39.8, -38.9), (40.3, -42.7), (41.3, -52.6), (42.1, -24.0), (43.1, 25.8), (44.3, 41.9), (45.4, 25.8), (46.2, -1.6), (47.2, 36.9), (48.3, 36.9), (49.1, 46.9), (50.0, 38.2), (51.3, 36.9), (51.9, 43.2), (52.6, 58.1), (53.3, 71.8), (54.2, 64.3), (55.2, 65.6), (56.2, 63.6), (57.2, 68.1), (58.2, 74.8), (59.2, 63.1), (60.1, 50.6), (61.1, 15.8), (62.1, -48.9), (63.3, -76.2), (64.4, -70.8), (65.4, -67.5), (66.7, -56.4), (67.2, -50.1), (68.0, -6.6), (69.3, 15.8), (70.3, 3.4), (71.3, -46.4), (72.3, -77.5), (73.2, -87.4), (74.2, -89.2), (75.1, -85.0), (76.2, -63.8), (77.2, -24.0), (78.2, 30.7), (79.3, 66.8), (80.1, 49.4), (81.1, 10.8), (82.1, 10.8), (82.9, -6.6), (84.2, -52.6), (85.1, -11.6), (86.3, -1.6), (87.1, -14.0), (88.1, -31.5), (89.1, -66.3), (90.0, -78.7), (91.2, -90.7), (92.3, -68.8), (93.3, -46.4), (94.3, -21.5), (95.0, 15.8), (96.0, 83.0), (96.9, 91.7), (98.2, 96.7), (99.2, 86.7), (100.2, 58.1), (101.2, 3.4), (102.5, -46.4), (103.3, -77.5), (104.3, -92.4), (105.4, -73.8), (106.4, -34.0), (107.4, 30.7), (108.4, 65.6), (109.4, 86.7), (110.4, 95.4), (111.3, 99.9), (112.3, 97.9), (113.3, 91.7), (114.3, 79.3), (115.3, 66.8), (119.2, 66.8), (120.2, 81.7), (121.0, 86.7), (122.2, 65.6), (123.1, 34.5), (125.1, 34.5), (126.1, 48.1), (128.1, 68.6), (129.4, 54.4), (130.3, 15.8), (131.3, -38.9), (132.1, -78.7), (133.3, -96.1), (135.3, -96.1), (136.2, -97.4), (137.5, -91.2), (138.2, -88.7), (139.1, -82.5), (140.2, -83.7), (141.2, -83.7), (142.1, -56.4), (143.1, 3.4), (144.1, 43.2), (145.1, 58.1), (146.1, 83.0), (147.4, 92.9), (148.4, 96.7), (149.3, 96.7), (150.3, 92.9), (151.3, 78.0), (152.3, 28.2), (153.3, -24.0), (154.3, -58.8), (155.2, -82.5), (156.1, -81.2), (156.9, -53.9), (158.2, -1.6), (159.2, 40.7), (160.2, 66.8), (161.1, 55.6), (162.1, 40.7), (163.1, -14.0), (164.1, -58.8), (165.3, -97.4), (166.2, -96.1), (167.0, -86.2), (168.0, -85.7), (169.0, -63.8), (170.0, -29.0), (171.1, 17.0), (172.3, 17.0), (172.9, -4.1), (173.9, -38.9), (175.2, -68.8), (176.2, -76.2), (177.2, -68.8), (178.2, -67.5), (179.1, -69.3), (181.1, -69.3), (182.1, -81.2), (183.1, -76.2), (184.4, -81.2), (185.5, -29.0), (186.5, -1.6), (187.2, 58.1), (188.1, 80.0), (189.1, 75.5), (190.1, 40.7), (191.0, -6.6), (192.0, -29.0), (192.7, -58.8), (193.3, -75.0), (194.2, -45.9), (195.1, -43.9), (195.9, -29.0), (197.3, 5.9), (198.1, 56.9), (199.0, 71.8), (200.2, 73.5), (201.2, 73.5), (202.2, 90.5), (203.2, 98.4), (204.1, 99.9), (205.1, 95.4), (206.1, 86.7), (207.1, 73.0), (208.1, 48.1), (209.1, -9.1), (210.0, -68.8), (211.3, -87.4), (212.3, -75.0), (213.2, -67.5), (214.0, -71.3), (214.9, -38.9), (215.9, 3.4), (216.9, 17.0), (218.4, 2.1), (219.2, 9.6), (220.2, 38.2), (221.2, 59.3), (222.2, 73.5), (223.1, 60.6), (224.1, 40.7), (225.1, 3.4), (226.1, -38.9), (227.1, -81.2), (228.4, -90.7), (229.4, -96.1), (230.3, -92.4), (231.1, -92.4), (232.2, -58.8), (233.0, -24.0), (234.0, 12.1), (234.9, 22.0), (235.6, 53.1), (236.2, 81.7), (237.2, 73.0), (238.1, 59.3), (238.7, 8.3), (239.5, -43.9), (240.5, -55.1), (241.5, -63.8), (242.3, -81.2), (243.3, -88.7), (244.2, -82.5), (245.1, -68.8), (246.1, -43.9), (247.0, -14.0), (248.0, 36.9), (249.0, 36.9), (250.0, -9.1), (251.0, -29.0), (252.0, -58.8), (252.9, -81.2), (253.9, -87.4), (255.1, -93.7), (256.2, -78.7), (257.5, -53.9), (258.8, -34.0), (260.0, 28.2), (261.1, 75.5), (262.1, 88.5), (263.1, 58.1), (264.1, 22.0), (265.1, 10.8), (266.0, -6.6), (267.0, -21.5), (268.3, -61.3), (269.3, 3.4), (270.3, 38.2), (270.9, 66.8), (271.9, 23.3), (272.9, -6.6), (274.2, -19.0), (275.2, -56.4), (276.2, -86.2), (277.2, -97.4), (278.2, -87.4), (279.1, -16.5), (280.1, 25.8), (281.1, 55.6), (282.1, 73.0), (283.1, 85.5), (284.1, 93.0), (285.2, 75.5), (286.0, 75.5)]

osc_mid = [(-18.5, -16.5), (-16.8, -0.4), (-15.9, 10.8), (-14.9, 28.2), (-13.6, 40.7), (-11.9, 55.6), (-10.3, 69.3), (-8.7, 80.5), (-7.4, 84.2), (-5.4, 88.0), (-4.1, 92.9), (-2.8, 95.9), (-1.4, 97.2), (1.2, 96.9), (3.8, 96.4), (6.4, 94.7), (8.4, 91.7), (10.3, 86.7), (11.7, 83.0), (13.0, 78.0), (14.3, 73.5), (16.2, 71.0), (18.2, 65.6), (19.5, 58.1), (20.8, 40.7), (22.1, 20.8), (23.4, 8.3), (24.8, -6.6), (26.1, -16.5), (27.4, -27.7), (28.7, -38.9), (30.3, -50.9), (32.1, -57.1), (33.9, -52.6), (35.9, -42.7), (37.2, -36.4), (38.5, -22.8), (39.8, -17.8), (41.1, -11.6), (42.4, 0.9), (44.3, 15.8), (45.4, 15.8), (47.0, 12.1), (48.3, 9.6), (49.7, 14.6), (51.3, 29.5), (52.9, 59.4), (54.2, 74.8), (56.2, 75.0), (58.8, 74.3), (61.1, 73.5), (62.7, 69.3), (65.4, 64.3), (67.3, 64.8), (69.3, 61.8), (71.3, 40.7), (73.2, 15.8), (74.9, -11.6), (77.2, -29.0), (79.8, -45.1), (81.7, -61.3), (83.8, -75.0), (84.8, -75.8), (85.8, -77.5), (86.8, -81.2), (88.7, -85.0), (91.4, -85.7), (94.3, -85.0), (96.0, -81.2), (98.6, -71.3), (100.5, -64.3), (102.5, -62.6), (104.5, -60.8), (105.8, -53.9), (107.1, -45.9), (108.4, -48.9), (109.4, -41.4), (110.4, -40.2), (111.3, -31.5), (113.0, -11.6), (114.3, 8.3), (116.3, 25.8), (118.2, 45.7), (119.5, 55.6), (120.8, 73.0), (122.2, 84.2), (124.1, 87.5), (127.4, 88.0), (129.4, 89.2), (131.3, 88.0), (133.3, 84.2), (135.3, 76.8), (137.2, 65.6), (139.2, 48.1), (141.2, 28.2), (142.5, 10.8), (144.4, -4.1), (145.7, -4.6), (147.4, 0.9), (149.0, 7.1), (151.3, 12.1), (152.9, 22.0), (154.9, 33.2), (156.9, 45.7), (159.2, 54.4), (161.5, 65.6), (163.4, 68.8), (165.4, 66.8), (167.4, 61.8), (169.3, 54.4), (171.0, 45.7), (172.6, 30.7), (174.2, 8.3), (175.9, -14.0), (177.5, -38.9), (179.1, -56.4), (181.1, -81.2), (182.4, -85.0), (183.8, -84.9), (187.1, -84.4), (190.1, -87.4), (191.7, -90.1), (194.3, -86.4), (196.3, -83.1), (197.9, -78.1), (199.6, -58.8), (201.5, -43.9), (203.5, -19.0), (205.4, 8.3), (207.1, 37.0), (208.7, 48.1), (210.7, 60.6), (212.7, 70.5), (214.0, 75.5), (215.3, 77.3), (216.6, 73.5), (217.9, 69.3), (219.5, 67.3), (220.2, 64.8), (222.2, 65.6), (223.5, 61.8), (225.1, 50.6), (227.1, 35.7), (229.0, 13.3), (231.0, -9.1), (233.0, -36.4), (234.3, -58.8), (235.6, -71.3), (237.2, -76.2), (240.2, -75.7), (242.1, -77.5), (244.1, -78.2), (246.1, -82.9), (248.0, -83.7), (250.0, -85.4), (252.0, -87.4), (254.6, -88.7), (257.2, -88.2), (259.2, -87.2), (261.1, -85.7), (263.8, -85.4), (266.4, -84.2), (268.3, -82.5), (271.0, -70.0), (274.2, -62.1), (276.9, -61.3), (278.2, -58.8), (279.5, -46.4), (281.4, -16.5), (283.4, 10.8), (284.7, 30.7), (286.0, 41.5)]

osc_slow = [(-18.5, 49.4), (-15.9, 47.6), (-11.9, 46.9), (-8.7, 45.9), (-6.0, 45.7), (-4.7, 49.4), (-3.7, 54.4), (-2.8, 55.6), (-1.4, 61.8), (-0.1, 66.8), (1.2, 73.0), (2.5, 79.3), (4.5, 84.2), (6.4, 89.2), (7.7, 91.7), (10.3, 92.2), (13.0, 91.7), (14.9, 90.5), (17.6, 89.2), (19.2, 86.7), (20.2, 81.7), (21.5, 71.8), (23.4, 63.1), (25.4, 54.4), (27.4, 48.1), (29.3, 40.7), (31.3, 35.7), (33.3, 29.5), (35.2, 20.8), (37.2, 10.8), (39.2, 3.4), (41.1, -6.6), (42.4, -14.0), (44.1, -19.0), (45.7, -30.2), (47.4, -37.7), (48.3, -35.2), (49.7, -27.7), (51.3, -19.0), (52.9, -4.1), (54.9, 13.3), (56.9, 35.7), (58.8, 48.1), (60.1, 55.6), (61.4, 56.9), (62.7, 53.1), (65.4, 49.4), (66.7, 53.1), (68.6, 68.1), (70.3, 74.3), (71.9, 60.6), (73.2, 45.7), (75.2, 25.8), (77.2, 15.8), (79.5, 7.1), (81.7, -12.8), (84.2, -22.8), (85.5, -24.0), (86.5, -29.0), (87.8, -38.9), (89.1, -48.9), (90.4, -51.9), (91.4, -58.8), (92.7, -68.8), (94.6, -73.8), (97.3, -78.7), (99.2, -82.5), (101.2, -83.0), (103.8, -85.0), (105.4, -84.5), (107.7, -80.0), (109.7, -76.2), (111.7, -66.3), (113.6, -53.9), (115.3, -40.2), (116.9, -24.0), (118.5, -4.1), (120.2, 10.8), (121.5, 25.8), (123.5, 36.9), (125.4, 44.4), (127.4, 49.4), (129.4, 60.6), (131.3, 71.8), (134.0, 76.8), (137.2, 80.5), (139.2, 76.8), (141.2, 68.1), (144.4, 60.6), (148.0, 61.1), (150.3, 63.8), (153.6, 63.1), (156.2, 61.8), (158.8, 61.6), (161.5, 61.1), (163.4, 62.3), (165.4, 60.6), (168.0, 56.1), (171.0, 57.6), (172.6, 49.4), (174.6, 32.0), (176.5, 20.8), (179.1, 5.9), (181.8, -14.0), (183.8, -25.2), (185.8, -36.4), (187.8, -46.4), (189.7, -56.4), (191.0, -63.8), (192.3, -72.5), (194.3, -81.2), (196.3, -86.2), (197.9, -87.4), (199.6, -82.5), (201.5, -75.0), (203.5, -65.1), (206.1, -53.9), (208.7, -40.2), (211.3, -26.5), (214.0, -9.1), (216.6, 8.3), (218.6, 22.0), (220.5, 43.2), (222.5, 60.6), (223.8, 68.6), (225.8, 68.6), (227.4, 66.1), (229.0, 63.1), (230.7, 59.3), (232.3, 51.9), (234.6, 40.7), (236.9, 28.2), (239.2, 15.8), (240.5, 8.3), (242.1, -9.1), (243.8, -24.0), (245.4, -38.9), (247.4, -56.4), (249.0, -73.8), (250.3, -83.7), (252.6, -88.7), (255.9, -90.4), (259.2, -90.4), (262.4, -91.7), (265.7, -91.7), (268.3, -90.2), (271.0, -86.2), (274.2, -84.9), (278.2, -83.1), (280.8, -71.9), (283.4, -62.0), (286.0, -42.1)]

# axis ticks
month_pos = [0, 23, 44, 66, 89, 109, 131, 152, 172, 194, 216, 237, 259, 282]
month_txt = ["7月", "8月", "9月", "10月", "11月", "12月", "<b>2026</b>", "2月", "3月",
             "4月", "5月", "6月", "7月", "8月"]
price_ticks = [1.13, 1.15, 1.16, 1.17, 1.18, 1.19, 1.20, 1.21]
osc_ticks = [120, 80, 40, 0, -40, -80]
osc_ticktext = ["120.00000", "80.00000", "40.00000", "0.00000", "-40.00000", "-80.00000"]

header_txt = "8月 08, 2026 12:35 UTC+9、tcl_incがTradingView.comで作成"
title_txt = "ユーロ／米ドル・1日・FXCM"

# ---------------- style ----------------
BG = "#1f1f1f"
GREEN = "#4cc95c"
YELLOW = "#f2e33f"
BAND_RED = "#e0463e"
BLUE = "#2962ff"
PINK = "#e91e63"
CYAN = "#22c1d9"
OSC_RED = "#f23645"
OSC_GREEN = "#4caf50"
AXIS_TXT = "#b2b5be"
CJK = "Noto Sans CJK JP"
NUM = "DejaVu Sans"


def xs(pts):
    return [p[0] for p in pts]


def ys(pts):
    return [p[1] for p in pts]


fig = go.Figure()

fig.add_trace(go.Candlestick(
    x=bars, open=open_, high=high_, low=low_, close=close_,
    increasing=dict(line=dict(color=GREEN, width=1.3), fillcolor="#000000"),
    decreasing=dict(line=dict(color="#ffffff", width=1.3), fillcolor="#ffffff"),
    whiskerwidth=0, showlegend=False, hoverinfo="skip",
    xaxis="x", yaxis="y"))

for pts, col, w in [(sma_long, BLUE, 2.4), (upper2, YELLOW, 2.0), (lower2, YELLOW, 2.0),
                    (upper1, "#ffffff", 1.9), (lower1, "#ffffff", 1.9), (middle, BAND_RED, 1.9)]:
    fig.add_trace(go.Scatter(x=xs(pts), y=ys(pts), mode="lines",
                             line=dict(color=col, width=w), showlegend=False,
                             hoverinfo="skip", xaxis="x", yaxis="y"))

for tx, ty in [(trend_down_x, trend_down_y), (trend_up_x, trend_up_y)]:
    fig.add_trace(go.Scatter(x=tx, y=ty, mode="lines", line=dict(color=PINK, width=3.2),
                             showlegend=False, hoverinfo="skip", xaxis="x", yaxis="y"))

for pts, col in [(osc_slow, OSC_GREEN), (osc_mid, BLUE), (osc_fast, OSC_RED)]:
    fig.add_trace(go.Scatter(x=xs(pts), y=ys(pts), mode="lines",
                             line=dict(color=col, width=1.7), showlegend=False,
                             hoverinfo="skip", xaxis="x", yaxis="y2"))

shapes = [
    # chart panel
    dict(type="rect", xref="paper", yref="paper", x0=px(18), x1=px(1967), y0=py(1220), y1=py(48),
         fillcolor="#000000", line=dict(width=0), layer="below"),
    # levels
    dict(type="line", xref="x domain", yref="y", x0=0, x1=1, y0=level_hi, y1=level_hi,
         line=dict(color=CYAN, width=2.6)),
    dict(type="line", xref="x domain", yref="y", x0=0, x1=1, y0=level_lo, y1=level_lo,
         line=dict(color=CYAN, width=2.6)),
    # oscillator guide lines
    dict(type="line", xref="x domain", yref="y2", x0=0, x1=1, y0=80, y1=80,
         line=dict(color="#8a8d96", width=1, dash="dash")),
    dict(type="line", xref="x domain", yref="y2", x0=0, x1=1, y0=-80, y1=-80,
         line=dict(color="#8a8d96", width=1, dash="dash")),
    # axis separators
    dict(type="line", xref="paper", yref="paper", x0=px(1828), x1=px(1828), y0=py(1220), y1=py(48),
         line=dict(color="#3a3a3a", width=1)),
    dict(type="line", xref="paper", yref="paper", x0=px(18), x1=px(1967), y0=py(1172), y1=py(1172),
         line=dict(color="#2e2e2e", width=1)),
    dict(type="rect", xref="paper", yref="paper", x0=px(1829), x1=px(1967), y0=py(846), y1=py(834),
         fillcolor="#000000", line=dict(width=0), layer="above"),
    dict(type="line", xref="paper", yref="paper", x0=px(18), x1=px(1967), y0=py(846), y1=py(846),
         line=dict(color="#d0d0d0", width=1.5)),
    # currency button
    dict(type="path", xref="paper", yref="paper",
         path=(f"M {px(1842)},{py(52)} L {px(1952)},{py(52)} Q {px(1959)},{py(52)} {px(1959)},{py(59)} "
               f"L {px(1959)},{py(87)} Q {px(1959)},{py(94)} {px(1952)},{py(94)} L {px(1842)},{py(94)} "
               f"Q {px(1835)},{py(94)} {px(1835)},{py(87)} L {px(1835)},{py(59)} "
               f"Q {px(1835)},{py(52)} {px(1842)},{py(52)} Z"),
         fillcolor="#161616", line=dict(color="#3c3c3c", width=1.2), layer="above"),
    # TradingView logo mark
    dict(type="rect", xref="paper", yref="paper", x0=px(23), x1=px(42), y0=py(1271), y1=py(1262),
         fillcolor="#dcdcdc", line=dict(width=0)),
    dict(type="rect", xref="paper", yref="paper", x0=px(33), x1=px(42), y0=py(1287), y1=py(1262),
         fillcolor="#dcdcdc", line=dict(width=0)),
    dict(type="circle", xref="paper", yref="paper", x0=px(44), x1=px(53), y0=py(1271), y1=py(1262),
         fillcolor="#dcdcdc", line=dict(width=0)),
    dict(type="path", xref="paper", yref="paper",
         path=f"M {px(58)},{py(1262)} L {px(73)},{py(1262)} L {px(62)},{py(1287)} L {px(47)},{py(1287)} Z",
         fillcolor="#dcdcdc", line=dict(width=0)),
]

annotations = [
    dict(text=header_txt, xref="paper", yref="paper", x=px(18), y=py(19), xanchor="left",
         yanchor="middle", showarrow=False, font=dict(family=CJK, size=20.5, color="#d1d4dc")),
    dict(text=title_txt, xref="paper", yref="paper", x=px(33), y=py(67), xanchor="left",
         yanchor="middle", showarrow=False, font=dict(family=CJK, size=20.5, color="#c8cad0")),
    dict(text="<b>USD</b>", xref="paper", yref="paper", x=px(1851), y=py(71), xanchor="left",
         yanchor="middle", showarrow=False, font=dict(family=NUM, size=17, color="#e8e8e8")),
    dict(text=f"{level_hi:.5f}", xref="paper", yref="y", x=px(1828), y=level_hi, xanchor="left",
         yanchor="middle", showarrow=False, bgcolor=CYAN, width=96, height=26, borderpad=1,
         font=dict(family=NUM, size=19, color="#0b0b0b")),
    dict(text=f"{level_lo:.5f}", xref="paper", yref="y", x=px(1828), y=level_lo, xanchor="left",
         yanchor="middle", showarrow=False, bgcolor=CYAN, width=96, height=26, borderpad=1,
         font=dict(family=NUM, size=19, color="#0b0b0b")),
    dict(text=f"<b>{last_price:.5f}</b>", xref="paper", yref="y", x=px(1843), y=last_price,
         xanchor="left", yanchor="middle", showarrow=False,
         font=dict(family=NUM, size=19, color="#ffffff")),
    dict(text="<b>TradingView</b>", xref="paper", yref="paper", x=px(84), y=py(1275),
         xanchor="left", yanchor="middle", showarrow=False,
         font=dict(family="Inter", size=34, color="#dcdcdc")),
]

fig.update_layout(
    width=W, height=H, margin=dict(l=0, r=0, t=0, b=0),
    paper_bgcolor=BG, plot_bgcolor="#000000", showlegend=False, hovermode=False,
    font=dict(family=CJK, color=AXIS_TXT),
    xaxis=dict(domain=[px(18), px(1828)], range=[-18.52, 296.58], anchor="y2",
               tickmode="array", tickvals=month_pos, ticktext=month_txt,
               showgrid=False, zeroline=False, showline=False, ticks="",
               tickfont=dict(family=CJK, size=18, color=AXIS_TXT),
               rangeslider=dict(visible=False), ticklabelstandoff=10, fixedrange=True),
    yaxis=dict(domain=[py(846), py(48)], range=[1.12467, 1.21718], side="right", anchor="x",
               tickmode="array", tickvals=price_ticks, tickformat=".5f",
               showgrid=False, zeroline=False, showline=False, ticks="",
               tickfont=dict(family=NUM, size=19, color=AXIS_TXT), ticklabelstandoff=15,
               ticklabelshift=-4, fixedrange=True),
    yaxis2=dict(domain=[py(1172), py(846)], range=[-119.3, 124.1], side="right", anchor="x",
                tickmode="array", tickvals=osc_ticks, ticktext=osc_ticktext,
                showgrid=False, zeroline=False, showline=False, ticks="",
                tickfont=dict(family=NUM, size=19, color=AXIS_TXT), ticklabelstandoff=15,
                ticklabelshift=-2, fixedrange=True),
    shapes=shapes, annotations=annotations,
)

fig.write_html(
    "out.html",
    config={"displayModeBar": False, "staticPlot": True},
    post_script=("document.body.style.margin='0px';document.body.style.padding='0px';"
                 "document.body.style.overflow='hidden';"
                 "document.body.style.background='" + BG + "';"),
)
